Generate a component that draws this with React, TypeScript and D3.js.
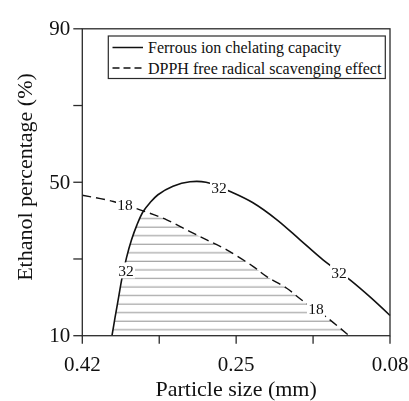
import React from 'react';
import * as d3 from 'd3';

// ---- data ----
const xDomain = [0.42, 0.08];
const yDomain = [10, 90];
const xTickValues = [0.42, 0.335, 0.25, 0.165, 0.08];
const xTickLabels = ['0.42', '', '0.25', '', '0.08'];
const yTickValues = [10, 30, 50, 70, 90];
const yTickLabels = ['10', '', '50', '', '90'];

// Ferrous ion chelating capacity contour (level 32)
const chelX = [0.3872, 0.3839, 0.38, 0.3761, 0.3712, 0.3656, 0.3596, 0.3529, 0.3452, 0.3364, 0.3198, 0.301, 0.2833, 0.2535, 0.2314, 0.2049, 0.1794, 0.154, 0.1242, 0.1021, 0.08];
const chelY = [10, 14.62, 19.84, 25.07, 30.29, 34.99, 38.9, 42.3, 44.65, 46.74, 48.96, 50.13, 50.0, 47.26, 44.65, 40.21, 34.99, 29.77, 24.54, 20.1, 15.27];

// DPPH free radical scavenging effect contour (level 18)
const dpphX = [0.42, 0.3857, 0.3562, 0.3267, 0.301, 0.2825, 0.2604, 0.231, 0.2162, 0.1941, 0.1776, 0.15, 0.1253];
const dpphY = [46.61, 44.99, 42.82, 40.21, 37.15, 34.99, 32.38, 28.02, 25.4, 22.38, 19.32, 14.8, 10];

const chelLevel = '32';
const chelLabelX = [0.269, 0.3717, 0.1363];
const chelLabelY = [48.69, 27.02, 26.55];
const dpphLevel = '18';
const dpphLabelX = [0.3728, 0.1618];
const dpphLabelY = [44.13, 16.97];

const legendLabels = ['Ferrous ion chelating capacity', 'DPPH free radical scavenging effect'];
const xTitle = 'Particle size (mm)';
const yTitle = 'Ethanol percentage (%)';

const FONT = 'Liberation Serif';

export default function App() {
  const W = 409, H = 401;
  const left = 82.3, right = 390, top = 28.8, bottom = 335.7;
  const x = d3.scaleLinear().domain(xDomain).range([left, right]);
  const y = d3.scaleLinear().domain(yDomain).range([bottom, top]);

  const chelPts: [number, number][] = chelX.map((v, i) => [v, chelY[i]]);
  const dpphPts: [number, number][] = dpphX.map((v, i) => [v, dpphY[i]]);

  const line = d3.line<[number, number]>()
    .x(d => x(d[0]))
    .y(d => y(d[1]))
    .curve(d3.curveCatmullRom.alpha(0.5));

  const chelPath = line(chelPts) || '';
  const dpphPath = line(dpphPts) || '';
  const y10 = y(yDomain[0]);
  const chelArea = chelPath + `L${x(chelX[chelX.length - 1])},${y10}L${x(chelX[0])},${y10}Z`;
  const dpphArea = dpphPath + `L${x(dpphX[0])},${y10}Z`;

  const axisColor = '#2a2a2a';

  const labelBox = (cx: number, cy: number, t: string, key: string) => (
    <g key={key}>
      <rect x={cx - 9} y={cy - 8} width={18} height={16} fill="#ffffff" />
      <text x={cx} y={cy + 5.5} textAnchor="middle" fontSize={15.5} style={{ fontFamily: FONT }} fill="#111">{t}</text>
    </g>
  );

  return (
    <div style={{ position: 'fixed', left: 0, top: 0, fontFamily: FONT }}>
      <svg width={W} height={H} style={{ display: 'block', fontFamily: FONT }}>
        <defs>
          <pattern id="hatch" patternUnits="userSpaceOnUse" x={0} y={214.5} width={W} height={8.55}>
            <line x1={0} x2={W} y1={4} y2={4} stroke="#8a8a8a" strokeWidth={1.1} />
          </pattern>
          <clipPath id="dpphClip">
            <path d={dpphArea} />
          </clipPath>
        </defs>

        {/* hatched overlap region */}
        <path d={chelArea} fill="url(#hatch)" clipPath="url(#dpphClip)" />

        {/* contours */}
        <path d={chelPath} fill="none" stroke="#111" strokeWidth={1.6} />
        <path d={dpphPath} fill="none" stroke="#111" strokeWidth={1.4} strokeDasharray="9,5" />

        {/* contour labels */}
        {chelLabelX.map((v, i) => labelBox(x(v), y(chelLabelY[i]), chelLevel, 'c' + i))}
        {dpphLabelX.map((v, i) => labelBox(x(v), y(dpphLabelY[i]), dpphLevel, 'd' + i))}

        {/* frame */}
        <rect x={left} y={top} width={right - left} height={bottom - top} fill="none" stroke={axisColor} strokeWidth={1.3} />

        {/* y ticks */}
        {yTickValues.map((v, i) => (
          <g key={'yt' + i}>
            <line x1={left - 9} x2={left} y1={y(v)} y2={y(v)} stroke={axisColor} strokeWidth={1.3} />
            {yTickLabels[i] && (
              <text x={left - 12} y={y(v) + 6.5} textAnchor="end" fontSize={21} style={{ fontFamily: FONT }} fill="#111">{yTickLabels[i]}</text>
            )}
          </g>
        ))}

        {/* x ticks */}
        {xTickValues.map((v, i) => (
          <g key={'xt' + i}>
            <line x1={x(v)} x2={x(v)} y1={bottom} y2={bottom + 8} stroke={axisColor} strokeWidth={1.3} />
            {xTickLabels[i] && (
              <text x={x(v)} y={371} textAnchor="middle" fontSize={21} style={{ fontFamily: FONT }} fill="#111">{xTickLabels[i]}</text>
            )}
          </g>
        ))}

        {/* axis titles */}
        <text x={(left + right) / 2} y={396} textAnchor="middle" fontSize={22} style={{ fontFamily: FONT }} fill="#111">{xTitle}</text>
        <text transform={`translate(32,177) rotate(-90)`} textAnchor="middle" fontSize={22} style={{ fontFamily: FONT }} fill="#111">{yTitle}</text>

        {/* legend */}
        <rect x={108.3} y={36} width={277} height={42.5} fill="#ffffff" stroke={axisColor} strokeWidth={1.2} />
        <line x1={112.5} x2={143} y1={47.5} y2={47.5} stroke="#111" strokeWidth={1.5} />
        <line x1={112.5} x2={143} y1={68} y2={68} stroke="#111" strokeWidth={1.4} strokeDasharray="7,4" />
        <text x={148} y={53} fontSize={16} style={{ fontFamily: FONT }} fill="#111">{legendLabels[0]}</text>
        <text x={148} y={73.5} fontSize={16} style={{ fontFamily: FONT }} fill="#111">{legendLabels[1]}</text>
      </svg>
    </div>
  );
}
